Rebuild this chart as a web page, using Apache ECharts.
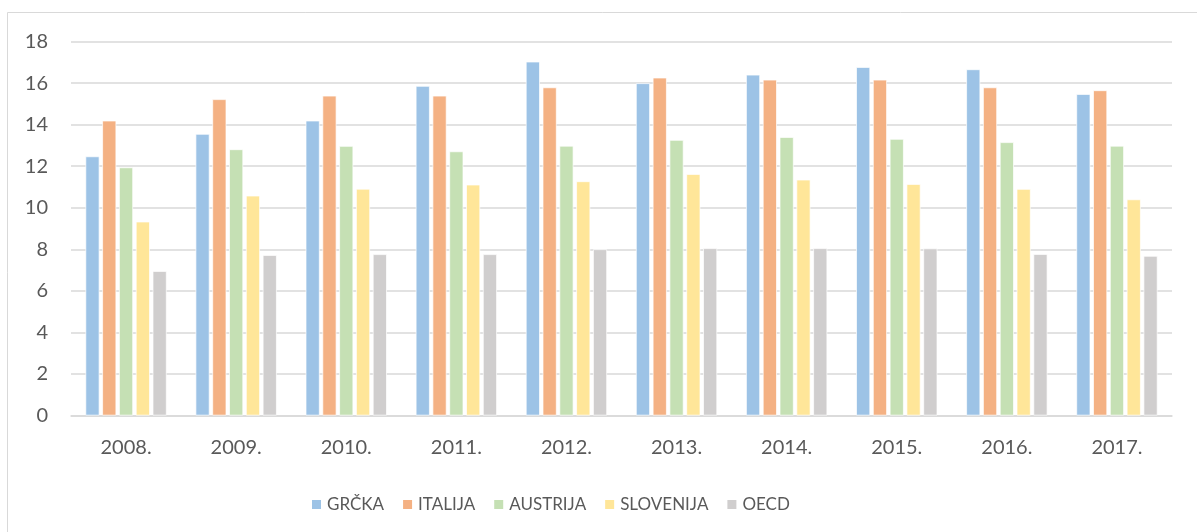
<!DOCTYPE html>
<html>
<head>
<meta charset="utf-8">
<script src="https://cdn.jsdelivr.net/npm/echarts@6/dist/echarts.min.js"></script>
<style>
html,body{margin:0;padding:0;background:#fff;}
#chart{width:1197px;height:532px;}
</style>
</head>
<body>
<div id="chart"></div>
<script>
const categories = ['2008.', '2009.', '2010.', '2011.', '2012.', '2013.', '2014.', '2015.', '2016.', '2017.'];
const grcka     = [12.47, 13.55, 14.19, 15.86, 17.03, 15.99, 16.40, 16.77, 16.66, 15.47];
const italija   = [14.19, 15.22, 15.39, 15.39, 15.79, 16.26, 16.16, 16.16, 15.79, 15.65];
const austrija  = [11.94, 12.81, 12.97, 12.71, 12.98, 13.26, 13.40, 13.31, 13.15, 12.98];
const slovenija = [9.33, 10.58, 10.91, 11.11, 11.27, 11.62, 11.35, 11.14, 10.90, 10.40];
const oecd      = [6.95, 7.72, 7.76, 7.76, 8.00, 8.05, 8.05, 8.04, 7.77, 7.68];
const seriesNames = ['GRČKA', 'ITALIJA', 'AUSTRIJA', 'SLOVENIJA', 'OECD'];
const yTicks = [0, 2, 4, 6, 8, 10, 12, 14, 16, 18];

const colors = ['#9DC3E6', '#F4B183', '#C5E0B4', '#FFE699', '#D0CECE'];
const dataSets = [grcka, italija, austrija, slovenija, oecd];
const font = 'Lato, "Open Sans", sans-serif';

const chart = echarts.init(document.getElementById('chart'));
chart.setOption({
  animation: false,
  backgroundColor: '#fff',
  graphic: [{
    type: 'rect',
    shape: { x: 7.5, y: 12.5, width: 1300, height: 700 },
    style: { fill: 'none', stroke: '#D9D9D9', lineWidth: 1 },
    silent: true,
    z: -1
  }],
  grid: { left: 71, right: 25, top: 41.5, bottom: 116.5, containLabel: false },
  legend: {
    data: seriesNames,
    left: 305,
    top: 491,
    itemWidth: 11,
    itemHeight: 11,
    itemGap: 17,
    icon: 'rect',
    textStyle: { color: '#595959', fontSize: 17, fontFamily: font, padding: [0, 0, 0, 0] }
  },
  xAxis: {
    type: 'category',
    data: categories,
    axisLine: { lineStyle: { color: '#D9D9D9', width: 1.5 } },
    axisTick: { show: false },
    axisLabel: { color: '#595959', fontSize: 20, fontFamily: font, margin: 22 }
  },
  yAxis: {
    type: 'value',
    min: yTicks[0],
    max: yTicks[yTicks.length - 1],
    interval: 2,
    axisLine: { show: false },
    axisTick: { show: false },
    splitLine: { lineStyle: { color: '#D9D9D9', width: 1.5 } },
    axisLabel: { color: '#595959', fontSize: 20, fontFamily: font, margin: 23 }
  },
  series: seriesNames.map((name, i) => ({
    name: name,
    type: 'bar',
    data: dataSets[i],
    barWidth: 14,
    barGap: '20%',
    itemStyle: { color: colors[i], borderColor: '#fff', borderWidth: 0.7 }
  }))
});
</script>
</body>
</html>
